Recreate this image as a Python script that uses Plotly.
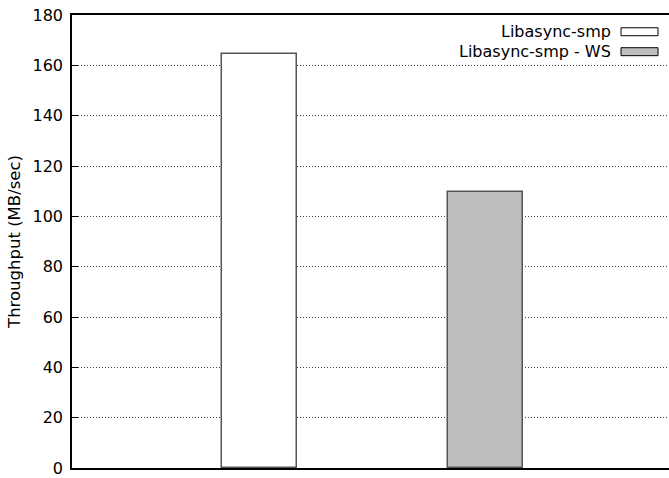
import plotly.graph_objects as go

series = ["Libasync-smp", "Libasync-smp - WS"]
values = [164.4, 109.8]
fills = ["#ffffff", "#bebebe"]
positions = [1, 2]
y_ticks = [0, 20, 40, 60, 80, 100, 120, 140, 160, 180]

fig = go.Figure()
for name, v, c, p in zip(series, values, fills, positions):
    fig.add_trace(go.Bar(
        x=[p], y=[v], name=name, width=0.332,
        marker=dict(color=c, line=dict(color="#555555", width=1.5)),
        showlegend=False,
    ))

font = "DejaVu Sans, Arial, sans-serif"

# custom legend (text left of sample box, as in gnuplot)
leg_y = [0.963, 0.919]
for name, c, ly in zip(series, fills, leg_y):
    fig.add_annotation(
        x=0.907, y=ly, xref="paper", yref="paper", text=name,
        showarrow=False, xanchor="right", yanchor="middle",
        font=dict(family=font, size=16, color="#000000"),
    )
    fig.add_shape(
        type="rect", xref="paper", yref="paper",
        x0=0.9196, x1=0.9816, y0=ly - 0.0088, y1=ly + 0.0088,
        fillcolor=c, line=dict(color="#000000", width=1),
    )

fig.update_layout(
    width=669, height=478,
    margin=dict(l=72, r=0, t=15, b=8),
    paper_bgcolor="white", plot_bgcolor="white",
    font=dict(family=font, size=16, color="#000000"),
    bargap=0,
    xaxis=dict(
        range=[0.17, 2.812], showticklabels=False, ticks="",
        showgrid=False, zeroline=False,
        showline=True, linecolor="#000000", linewidth=1.5, mirror=True,
    ),
    yaxis=dict(
        range=[0, 180], tickmode="array", tickvals=y_ticks,
        ticks="inside", ticklen=6, tickcolor="#000000", tickwidth=1,
        ticklabelstandoff=4, ticklabeloverflow="allow",
        showgrid=True, gridcolor="#444444", gridwidth=1, griddash="1px,2px",
        zeroline=False,
        showline=True, linecolor="#000000", linewidth=1.5,
        title=dict(text="Throughput (MB/sec)", standoff=8,
                   font=dict(family=font, size=16.5)),
    ),
)

fig.write_html("out.html")
